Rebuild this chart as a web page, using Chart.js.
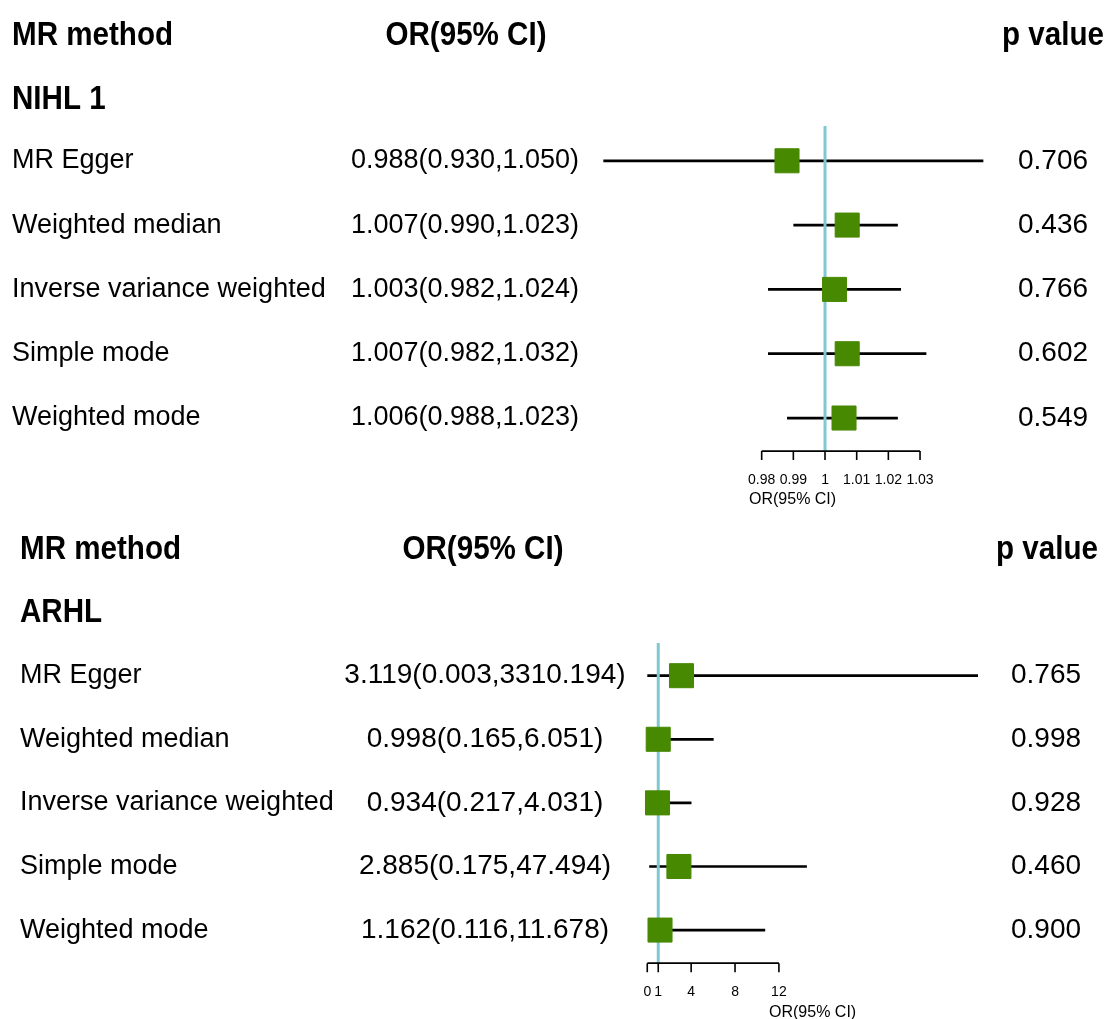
<!DOCTYPE html>
<html>
<head>
<meta charset="utf-8">
<script src="https://cdn.jsdelivr.net/npm/chart.js@4.4.1/dist/chart.umd.min.js"></script>
<style>
html, body { margin: 0; padding: 0; background: #fff; }
#wrap { position: relative; width: 1109px; height: 1019px; }
.panel { position: absolute; left: 0; width: 1109px; }
#top { top: 0; height: 510px; }
#bottom { top: 510px; height: 509px; }
</style>
</head>
<body>
<div id="wrap">
  <div class="panel" id="top"><canvas id="chartTop" width="1109" height="510"></canvas></div>
  <div class="panel" id="bottom"><canvas id="chartBottom" width="1109" height="509"></canvas></div>
</div>
<script>
// MR methods (same for both panels)
const methods = ['MR Egger', 'Weighted median', 'Inverse variance weighted', 'Simple mode', 'Weighted mode'];

// NIHL 1
const nihlOR   = [0.988, 1.007, 1.003, 1.007, 1.006];
const nihlLow  = [0.930, 0.990, 0.982, 0.982, 0.988];
const nihlHigh = [1.050, 1.023, 1.024, 1.032, 1.023];
const nihlP    = ['0.706', '0.436', '0.766', '0.602', '0.549'];
const nihlTicks = [0.98, 0.99, 1, 1.01, 1.02, 1.03];
const nihlTickLabels = ['0.98', '0.99', '1', '1.01', '1.02', '1.03'];

// ARHL
const arhlOR   = [3.119, 0.998, 0.934, 2.885, 1.162];
const arhlLow  = [0.003, 0.165, 0.217, 0.175, 0.116];
const arhlHigh = [3310.194, 6.051, 4.031, 47.494, 11.678];
// upper ends of the CI lines as they are drawn in the figure (the original cuts some short)
const arhlHighDrawn = [30.15, 6.051, 4.031, 14.55, 10.75];
const arhlP    = ['0.765', '0.998', '0.928', '0.460', '0.900'];
const arhlTicks = [0, 1, 4, 8, 12];
const arhlTickLabels = ['0', '1', '4', '8', '12'];

const GREEN = '#478900';
const BLUE = '#7fc8d2';
const FONT = '"Liberation Sans", Arial, sans-serif';

const ciText = (or, lo, hi) => or.map((v, i) => `${v.toFixed(3)}(${lo[i].toFixed(3)},${hi[i].toFixed(3)})`);

//header text, bold and a bit condensed like the original
function boldText(ctx, txt, x, y, align) {
  ctx.save();
  ctx.font = 'bold 34px ' + FONT;
  ctx.textAlign = align;
  ctx.textBaseline = 'middle';
  ctx.translate(x, y);
  ctx.scale(0.87, 1);
  ctx.fillText(txt, 0, 0);
  ctx.restore();
}

const forestText = {
  id: 'forestText',
  afterDraw(chart, args, o) {
    const ctx = chart.ctx;
    const xs = chart.scales.x;
    const ys = chart.scales.y;
    ctx.save();
    ctx.fillStyle = '#000';

    // column headers + group name
    const hy = ys.getPixelForValue(0) + o.headDy;
    boldText(ctx, 'MR method', o.methodX, hy, 'left');
    boldText(ctx, 'OR(95% CI)', o.orHeadX, hy, 'center');
    boldText(ctx, 'p value', o.pHeadX, hy, 'right');
    boldText(ctx, o.group, o.methodX, ys.getPixelForValue(1) + o.headDy, 'left');

    // rows
    ctx.textBaseline = 'middle';
    o.labels.forEach((m, i) => {
      const y = ys.getPixelForValue(i + 2);
      ctx.font = '27px ' + FONT;
      ctx.textAlign = 'left';
      ctx.fillText(m, o.methodX, y);
      ctx.textAlign = 'center';
      ctx.font = o.orFont + 'px ' + FONT;
      ctx.fillText(o.ci[i], o.orX, y);
      ctx.font = '28px ' + FONT;
      ctx.fillText(o.p[i], o.pX, y);
    });

    // x axis
    const ay = ys.getPixelForValue(o.axisRow);
    const x0 = xs.getPixelForValue(o.ticks[0]);
    const x1 = xs.getPixelForValue(o.ticks[o.ticks.length - 1]);
    ctx.strokeStyle = '#000';
    ctx.lineWidth = 1.6;
    ctx.beginPath();
    ctx.moveTo(x0, ay);
    ctx.lineTo(x1, ay);
    o.ticks.forEach(t => {
      const tx = xs.getPixelForValue(t);
      ctx.moveTo(tx, ay);
      ctx.lineTo(tx, ay + 9);
    });
    ctx.stroke();

    ctx.font = '14px ' + FONT;
    ctx.textAlign = 'center';
    o.ticks.forEach((t, i) => ctx.fillText(o.tickLabels[i], xs.getPixelForValue(t), ay + 29));
    ctx.font = '16px ' + FONT;
    ctx.textAlign = 'left';
    ctx.fillText('OR(95% CI)', xs.getPixelForValue(o.xlabAt), ay + 49);
    ctx.restore();
  }
};

function forest(id, d) {
  const datasets = [];
  // point estimates
  datasets.push({
    type: 'scatter',
    data: d.or.map((v, i) => ({ x: v, y: i + 2 })),
    pointStyle: 'rect',
    pointRadius: 17,
    pointHoverRadius: 17,
    backgroundColor: GREEN,
    borderColor: GREEN,
    borderWidth: 1,
    order: 0
  });
  // line of no effect
  datasets.push({
    data: [{ x: 1, y: d.refTop }, { x: 1, y: d.axisRow }],
    borderColor: BLUE,
    borderWidth: 3,
    pointRadius: 0,
    order: 1
  });
  // confidence intervals
  d.low.forEach((lo, i) => {
    datasets.push({
      data: [{ x: lo, y: i + 2 }, { x: d.high[i], y: i + 2 }],
      borderColor: '#000',
      borderWidth: 2.7,
      pointRadius: 0,
      order: 2
    });
  });

  return new Chart(document.getElementById(id), {
    type: 'line',
    data: { datasets },
    options: {
      responsive: false,
      animation: false,
      events: [],
      layout: { autoPadding: false, padding: { left: d.padLeft, right: d.padRight, top: 0, bottom: 0 } },
      scales: {
        x: { type: 'linear', display: false, min: d.xMin, max: d.xMax },
        y: { type: 'linear', display: false, min: d.yMin, max: d.yMax, reverse: true }
      },
      plugins: {
        legend: { display: false },
        tooltip: { enabled: false },
        forestText: {
          group: d.group,
          labels: methods,
          ci: d.ci,
          p: d.p,
          ticks: d.ticks,
          tickLabels: d.tickLabels,
          axisRow: d.axisRow,
          xlabAt: d.xlabAt,
          methodX: d.methodX,
          orX: d.orX,
          orFont: d.orFont,
          orHeadX: d.orHeadX,
          pX: d.pX,
          pHeadX: d.pHeadX,
          headDy: d.headDy
        }
      }
    },
    plugins: [forestText]
  });
}

forest('chartTop', {
  group: 'NIHL 1',
  or: nihlOR, low: nihlLow, high: nihlHigh,
  ci: ciText(nihlOR, nihlLow, nihlHigh),
  p: nihlP,
  ticks: nihlTicks, tickLabels: nihlTickLabels,
  xMin: 0.925, xMax: 1.055, padLeft: 587.5, padRight: 109.8,
  yMin: -0.5, yMax: 7.43,
  axisRow: 6.514, refTop: 1.46, xlabAt: 0.976,
  methodX: 12, orX: 465, orFont: 27, orHeadX: 466, pX: 1053, pHeadX: 1104, headDy: 3
});

forest('chartBottom', {
  group: 'ARHL',
  or: arhlOR, low: arhlLow, high: arhlHighDrawn,
  ci: ciText(arhlOR, arhlLow, arhlHigh),
  p: arhlP,
  ticks: arhlTicks, tickLabels: arhlTickLabels,
  xMin: -1, xMax: 32, padLeft: 636.3, padRight: 110.7,
  yMin: -0.605, yMax: 7.398,
  axisRow: 6.52, refTop: 1.486, xlabAt: 11.1,
  methodX: 20, orX: 485, orFont: 28, orHeadX: 483, pX: 1046, pHeadX: 1098, headDy: 1
});
</script>
</body>
</html>
